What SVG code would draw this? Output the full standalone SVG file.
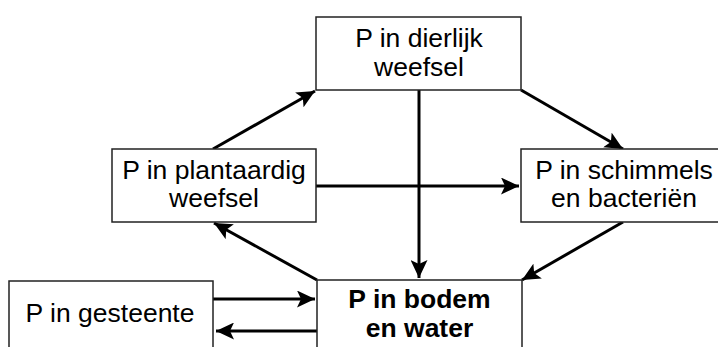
<svg xmlns="http://www.w3.org/2000/svg" width="718" height="347" viewBox="0 0 718 347">
<style>
.box{fill:#fff;stroke:#222;stroke-width:1.5}
.t{font-family:"Liberation Sans",Arial,sans-serif;font-size:26.5px;fill:#000;text-anchor:middle}
.b{font-weight:bold}
.c{stroke:#000;stroke-width:3;fill:none}
</style>
<defs>
<marker id="ah" markerUnits="userSpaceOnUse" markerWidth="19" markerHeight="17" refX="18" refY="8.5" orient="auto" viewBox="0 0 19 17">
<path d="M0,0 L18,8.5 L0,17 L4,8.5 z" fill="#000"/>
</marker>
</defs>
<rect width="718" height="347" fill="#fff"/>
<g id="connectors">
<line class="c" x1="419" y1="90" x2="419" y2="278" marker-end="url(#ah)"/>
<line class="c" x1="316" y1="186" x2="519" y2="186" marker-end="url(#ah)"/>
<line class="c" x1="213" y1="149" x2="315" y2="91" marker-end="url(#ah)"/>
<line class="c" x1="521" y1="90" x2="623" y2="149" marker-end="url(#ah)"/>
<line class="c" x1="623" y1="222" x2="522" y2="280" marker-end="url(#ah)"/>
<line class="c" x1="317" y1="280" x2="214" y2="223" marker-end="url(#ah)"/>
<line class="c" x1="213" y1="299" x2="315" y2="299" marker-end="url(#ah)"/>
<line class="c" x1="317" y1="331" x2="216" y2="331" marker-end="url(#ah)"/>
</g>
<g id="dierlijk">
<rect class="box" x="316" y="17" width="205" height="73"/>
<text class="t" x="419" y="47">P in dierlijk</text>
<text class="t" x="419" y="76">weefsel</text>
</g>
<g id="plantaardig">
<rect class="box" x="112" y="149" width="204" height="73"/>
<text class="t" x="214" y="179">P in plantaardig</text>
<text class="t" x="214" y="207">weefsel</text>
</g>
<g id="schimmels">
<rect class="box" x="521" y="149" width="206" height="73"/>
<text class="t" x="624" y="179">P in schimmels</text>
<text class="t" x="624" y="207">en bacteriën</text>
</g>
<g id="bodem">
<rect class="box" x="317" y="280" width="205" height="80"/>
<text class="t b" x="419.5" y="308">P in bodem</text>
<text class="t b" x="419.5" y="337">en water</text>
</g>
<g id="gesteente">
<rect class="box" x="9" y="281" width="204" height="80"/>
<text class="t" x="110" y="322">P in gesteente</text>
</g>
</svg>
